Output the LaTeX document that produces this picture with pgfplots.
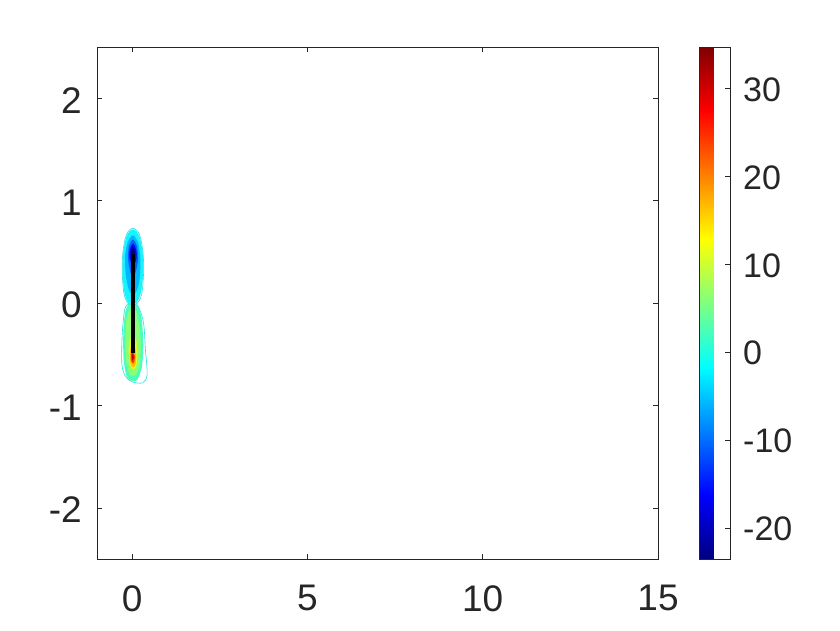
\documentclass[border=0pt]{standalone}
\usepackage{pgfplots}
\pgfplotsset{compat=1.18}
\usepackage{fontspec}
\setmainfont{Liberation Sans}
\definecolor{axgray}{rgb}{0.15,0.15,0.15}
\begin{document}
\begin{tikzpicture}
\path[use as bounding box] (-97pt,-71pt) rectangle (743pt,559pt);
\begin{axis}[
  scale only axis, width=561pt, height=512pt,
  xmin=-1, xmax=15, ymin=-2.5, ymax=2.5,
  xtick={0,5,10,15}, ytick={-2,-1,0,1,2},
  tick align=inside, major tick length=5pt,
  axis line style={axgray, line width=0.6pt},
  every tick/.style={axgray, line width=0.6pt},
  /pgf/number format/assume math mode=true,
  tick label style={font=\fontsize{37}{40}\selectfont, text=axgray, inner sep=0pt},
  xticklabel style={yshift=-26pt},
  yticklabel style={xshift=-15pt, yshift=-2pt},
  colormap/jet,
  point meta min=-23.5, point meta max=34.7,
  colorbar,
  colorbar style={
    scale only axis, width=31pt, height=512pt,
    at={(parent axis.north east)}, anchor=north west, xshift=32.5pt,
    ytick={-20,-10,0,10,20,30},
    ytick pos=right, yticklabel pos=right,
    tick align=inside, major tick length=5pt,
    axis line style={axgray, line width=0.6pt},
    every tick/.style={axgray, line width=0.6pt},
    /pgf/number format/assume math mode=true,
    yticklabel style={font=\fontsize{34}{37}\selectfont, text=axgray, inner sep=0pt, xshift=13pt, yshift=-1pt},
  },
]
% top lobe (negative)
\addplot[fill={rgb,1:red,0.1;green,0.95;blue,1}, draw=none, smooth cycle] coordinates {(0.02,0.72) (0.2,0.66) (0.3,0.5) (0.32,0.3) (0.25,0.1) (0.12,0.0) (0.02,0.03) (-0.1,0.0) (-0.22,0.1) (-0.27,0.3) (-0.25,0.5) (-0.15,0.66)};
\addplot[fill={rgb,1:red,0;green,0.72;blue,1}, draw=none, smooth cycle] coordinates {(0.03,0.66) (0.18,0.58) (0.24,0.4) (0.2,0.2) (0.1,0.1) (0.02,0.08) (-0.08,0.12) (-0.17,0.25) (-0.2,0.45) (-0.12,0.6)};
\addplot[fill={rgb,1:red,0;green,0.38;blue,1}, draw=none, smooth cycle] coordinates {(0.03,0.62) (0.14,0.55) (0.17,0.42) (0.1,0.3) (0.03,0.25) (-0.05,0.3) (-0.11,0.42) (-0.09,0.56)};
\addplot[fill={rgb,1:red,0;green,0.05;blue,0.9}, draw=none, smooth cycle] coordinates {(0.03,0.58) (0.12,0.52) (0.12,0.42) (0.03,0.38) (-0.07,0.43) (-0.07,0.52)};
\addplot[fill={rgb,1:red,0;green,0;blue,0.55}, draw=none, smooth cycle] coordinates {(0.02,0.55) (0.08,0.5) (0.02,0.44) (-0.04,0.5)};
% bottom lobe (positive)
\addplot[fill={rgb,1:red,0.3;green,1;blue,0.72}, draw=none, smooth cycle] coordinates {(0.03,0.0) (0.15,-0.02) (0.27,-0.15) (0.32,-0.4) (0.28,-0.62) (0.15,-0.75) (0,-0.76) (-0.15,-0.72) (-0.24,-0.55) (-0.25,-0.3) (-0.2,-0.1) (-0.1,-0.01)};
\addplot[fill={rgb,1:red,0.55;green,1;blue,0.45}, draw=none, smooth cycle] coordinates {(0.03,-0.05) (0.15,-0.12) (0.24,-0.35) (0.22,-0.6) (0.1,-0.7) (-0.05,-0.7) (-0.16,-0.58) (-0.19,-0.35) (-0.14,-0.12)};
\addplot[fill={rgb,1:red,0.85;green,1;blue,0.15}, draw=none, smooth cycle] coordinates {(0.04,-0.3) (0.14,-0.4) (0.14,-0.58) (0.05,-0.65) (-0.06,-0.6) (-0.1,-0.45) (-0.06,-0.35)};
\addplot[fill={rgb,1:red,1;green,0.75;blue,0}, draw=none, smooth cycle] coordinates {(0.03,-0.4) (0.11,-0.48) (0.1,-0.6) (0.03,-0.63) (-0.05,-0.58) (-0.06,-0.47)};
\addplot[fill={rgb,1:red,1;green,0.2;blue,0}, draw=none, smooth cycle] coordinates {(0.02,-0.47) (0.08,-0.52) (0.06,-0.58) (0.02,-0.59) (-0.03,-0.56) (-0.03,-0.5)};
\addplot[fill={rgb,1:red,0.75;green,0;blue,0}, draw=none, smooth cycle] coordinates {(0.02,-0.49) (0.05,-0.53) (0.02,-0.56) (-0.01,-0.53)};
% thin cyan contour lines
\addplot[draw={rgb,1:red,0.1;green,0.9;blue,0.9}, line width=0.6pt, smooth cycle] coordinates {(0.05,0.02) (0.2,-0.05) (0.33,-0.2) (0.38,-0.45) (0.43,-0.7) (0.3,-0.78) (0.0,-0.77) (-0.18,-0.72) (-0.29,-0.6) (-0.28,-0.3) (-0.2,-0.05) (-0.05,0.0)};
\addplot[draw={rgb,1:red,0.1;green,0.9;blue,0.9}, line width=0.6pt, smooth cycle] coordinates {(0.02,0.73) (0.21,0.67) (0.31,0.5) (0.33,0.3) (0.27,0.08) (0.12,-0.01) (-0.1,-0.01) (-0.23,0.09) (-0.28,0.3) (-0.26,0.5) (-0.16,0.67)};
% plate
\addplot[black, line width=4pt] coordinates {(0.02,-0.49) (0.02,0.48)};
\end{axis}
\end{tikzpicture}
\end{document}
